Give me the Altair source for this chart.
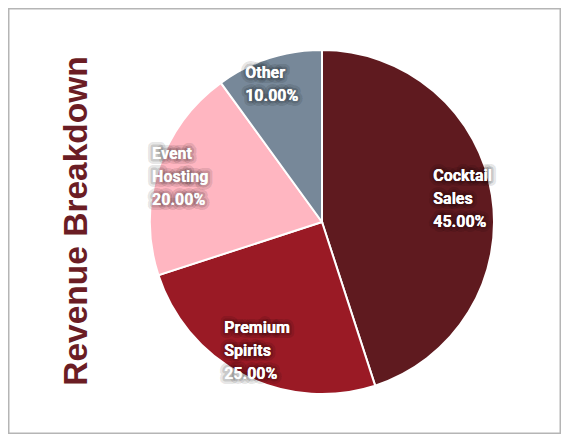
import altair as alt
import pandas as pd

categories = ["Cocktail Sales", "Premium Spirits", "Event Hosting", "Other"]
values = [45, 25, 20, 10]
colors = ["#5F1A1F", "#9A1A25", "#FFB6C1", "#778899"]

total = sum(values)
labels = [c.replace(" ", "\n") + "\n" + f"{v / total * 100:.2f}%" for c, v in zip(categories, values)]
df = pd.DataFrame({
    "category": categories,
    "value": values,
    "order": list(range(len(categories))),
    "label": labels,
    "nlines": [lab.count("\n") + 1 for lab in labels],
})
df["mid"] = df["value"].cumsum() - df["value"] / 2

center = dict(x=alt.value(314), y=alt.value(214))

arc = alt.Chart(df).mark_arc(outerRadius=172, stroke="white", strokeWidth=2).encode(
    theta=alt.Theta("value:Q", stack=True, scale=alt.Scale(domain=[0, total])),
    order=alt.Order("order:Q"),
    color=alt.Color("category:N", scale=alt.Scale(domain=categories, range=colors), legend=None),
    **center,
)

layers = [arc]
for n in (2, 3):
    style = dict(radius=145, align="left", baseline="middle", dx=-32, dy=-(n - 1) * 23 / 2,
                 font="Roboto", fontSize=16, fontWeight="bold", lineBreak="\n", lineHeight=23)
    sub = alt.Chart(df).transform_filter(alt.datum.nlines == n).encode(
        theta=alt.Theta("mid:Q", stack=None, scale=alt.Scale(domain=[0, total])),
        text="label:N",
        **center,
    )
    layers.append(sub.mark_text(fill="white", stroke="black", strokeWidth=10, strokeOpacity=0.1,
                                strokeJoin="round", **style))
    layers.append(sub.mark_text(fill="white", stroke="black", strokeWidth=5, strokeOpacity=0.15,
                                strokeJoin="round", **style))
    layers.append(sub.mark_text(fill="white", **style))

chart = alt.layer(*layers).properties(
    width=553,
    height=426,
    padding=0,
    autosize="none",
    title=alt.TitleParams(
        "Revenue Breakdown", orient="left", anchor="middle", fontSize=33.5,
        fontWeight="bold", color="#6B1D24", font="Liberation Sans", offset=-86,
    ),
).configure_view(stroke="#b5b5b5", strokeWidth=3)

chart.save("out.html", embed_options={"renderer": "svg", "actions": False})
